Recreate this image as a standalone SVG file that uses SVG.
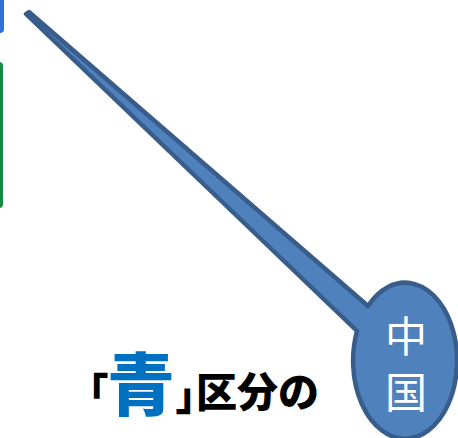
<svg xmlns="http://www.w3.org/2000/svg" width="458" height="438" viewBox="0 0 458 438">
<style>
.callout{fill:#4F81BD;stroke:#385D8A;stroke-width:4.5;stroke-linejoin:round}
.vt{font-family:"Noto Sans CJK JP","Noto Sans CJK SC",sans-serif;fill:#fff;font-size:42px;text-anchor:middle}
.t{font-family:"Noto Sans CJK JP","Noto Sans CJK SC",sans-serif;font-weight:900}
.p{font-feature-settings:"palt" 1}
</style>
<rect width="458" height="438" fill="#fff"/>
<g id="edge-left">
<rect x="-8" y="-8" width="12" height="41" rx="4" fill="#2E6FD8"/>
<rect x="-8" y="62" width="11" height="146" rx="4" fill="#158A45"/>
</g>
<g id="callout">
<path class="callout" d="M357,331 L26,14 L29,12 L368,306 A52 78 0 1 1 357,331 Z"/>
<text class="vt" x="406" y="352">中</text>
<text class="vt" x="406" y="408">国</text>
</g>
<g id="caption">
<text class="t" fill="#000"><tspan class="p" x="88" y="407" font-size="40">「</tspan><tspan x="107" y="410" font-size="68" fill="#0070C0">青</tspan><tspan class="p" x="176" y="410" font-size="40">」</tspan><tspan x="196" y="407" font-size="41">区分の</tspan></text>
</g>
</svg>
